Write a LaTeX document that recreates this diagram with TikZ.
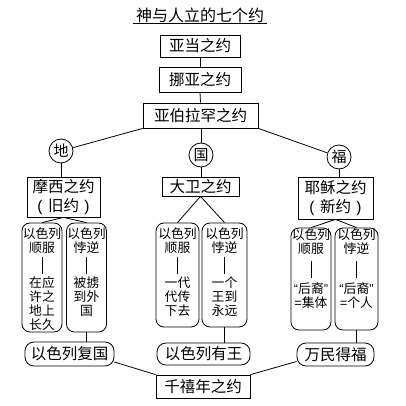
\documentclass[tikz,border=0pt]{standalone}
\usepackage{fontspec}
\setmainfont{Noto Sans CJK SC}
\newfontfamily\latq{Liberation Sans}
\usetikzlibrary{calc}
\newcommand\vbarline{\smash{\rule[-4pt]{0.7pt}{17pt}}}
\newcommand\subcol[2]{\vbox to 100pt{\kern#1\hsize=40pt\parindent=0pt\centering\baselineskip=14pt\lineskiplimit=-20pt #2\par\vfill}}
\newcommand\lpar{\makebox[16pt][c]{\latq(}}
\newcommand\rpar{\makebox[16pt][c]{\latq)}}
\tikzset{
  titlenode/.style={inner sep=0pt, minimum width=134pt, minimum height=16pt, font=\fontsize{16}{18}\selectfont},
  box/.style={draw, rectangle, inner sep=0pt, align=center, font=\fontsize{15.5}{19}\selectfont},
  circ/.style={draw, circle, minimum size=24pt, inner sep=0pt, font=\fontsize{15}{18}\selectfont},
  subbox/.style={draw, rounded corners=8pt, inner sep=0pt, font=\fontsize{12.8}{14}\selectfont},
  resbox/.style={draw, rounded corners=9pt, inner sep=0pt, font=\fontsize{15.5}{18}\selectfont},
}
\begin{document}
\begin{tikzpicture}[x=1pt, y=-1pt, line width=0.8pt]
\useasboundingbox (0,0) rectangle (406,406);
% title
\node[titlenode] (t) at (200,15) {神与人立的七个约};
\draw (t.south west) -- (t.south east);
% top chain
\node[box, minimum width=80pt, minimum height=22pt] (adam) at (200,46) {亚当之约};
\node[box, minimum width=82pt, minimum height=25pt] (noah) at (200,79.5) {挪亚之约};
\node[box, minimum width=115pt, minimum height=25pt] (abr) at (200.5,115.5) {亚伯拉罕之约};
\draw (adam.south) -- (noah.north);
\draw (noah.south) -- (abr.north);
% circles
\node[circ] (di) at (61,151) {地};
\node[circ] (guo) at (201,155) {国};
\node[circ] (fu) at (339,157) {福};
\draw (abr.south west) -- (di);
\draw (abr.south -| guo.north) -- (guo.north);
\draw (abr.south east) -- (fu);
% covenants
\node[box, minimum width=73pt, minimum height=40pt] (moses) at (63.5,197) {摩西之约\\\lpar 旧约\rpar};
\node[box, minimum width=77pt, minimum height=19pt] (david) at (200.5,186.5) {大卫之约};
\node[box, minimum width=75pt, minimum height=42pt] (jesus) at (335.5,198) {耶稣之约\\\lpar 新约\rpar};
\draw (di.south) -- (di.south |- moses.north);
\draw (guo.south) -- (guo.south |- david.north);
\draw (fu.south) -- (fu.south |- jesus.north);
% sub boxes
\node[subbox, minimum width=40pt, minimum height=109pt] (m1) at (42,277.5)
  {\subcol{0pt}{以色列\\顺服\\[3.5pt]\vbarline\\[3.5pt]在应\\许之\\地上\\长久}};
\node[subbox, minimum width=39pt, minimum height=109pt] (m2) at (86.5,277.5)
  {\subcol{0pt}{以色列\\悖逆\\[3.5pt]\vbarline\\[3.5pt]被掳\\到外\\国}};
\node[subbox, minimum width=43pt, minimum height=104pt] (d1) at (177.5,275)
  {\subcol{2.5pt}{以色列\\顺服\\[3.5pt]\vbarline\\[3.5pt]一代\\代传\\下去}};
\node[subbox, minimum width=45pt, minimum height=104pt] (d2) at (224.5,275)
  {\subcol{2.5pt}{以色列\\悖逆\\[3.5pt]\vbarline\\[3.5pt]一个\\王到\\永远}};
\node[subbox, minimum width=40pt, minimum height=102pt] (j1) at (311,279)
  {\subcol{0pt}{以色列\\顺服\\[6pt]\vbarline\\[6pt]{\latq “}后裔{\latq ”}\\{\latq =}集体}};
\node[subbox, minimum width=43pt, minimum height=102pt] (j2) at (356.5,279)
  {\subcol{0pt}{以色列\\悖逆\\[6pt]\vbarline\\[6pt]{\latq “}后裔{\latq ”}\\{\latq =}个人}};
\draw (moses.south) -- (m1.north);
\draw (moses.south) -- (m2.north);
\draw (david.south) -- (d1.north);
\draw (david.south) -- (d2.north);
\draw (jesus.south) -- (j1.north);
\draw (jesus.south) -- (j2.north);
% results
\node[resbox, minimum width=89pt, minimum height=24pt] (restore) at (69.5,354) {以色列复国};
\node[resbox, minimum width=93pt, minimum height=22pt] (king) at (203.5,354) {以色列有王};
\node[resbox, minimum width=77pt, minimum height=23pt] (bless) at (335.5,354.5) {万民得福};
\draw (m2.south) -- (m2.south |- restore.north);
\draw (d2.south) -- (d2.south |- king.north);
\draw (j2.south) -- (j2.south |- bless.north);
% millennium
\node[box, minimum width=94pt, minimum height=23pt] (mill) at (203,386.5) {千禧年之约};
\draw ($(restore.east)+(0,8)$) -- (mill.north west);
\draw (mill.north east) -- ($(bless.west)+(0,7)$);
\end{tikzpicture}
\end{document}
